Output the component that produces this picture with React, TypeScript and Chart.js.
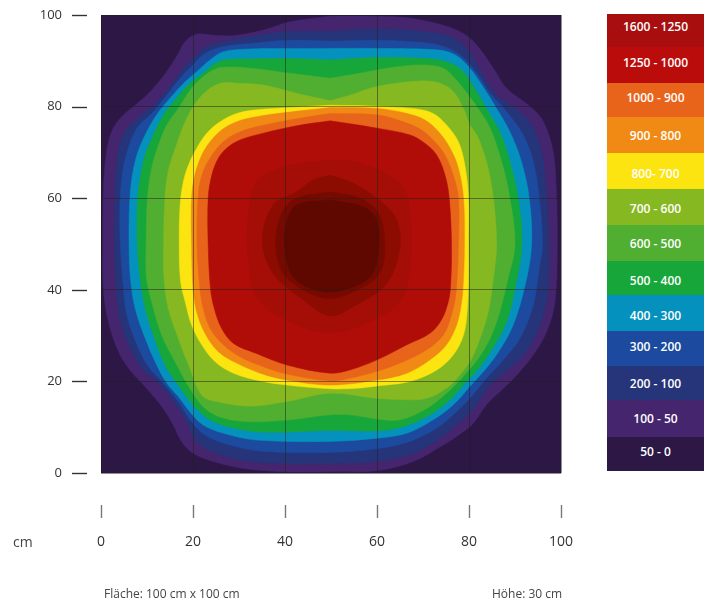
import React, { useEffect, useRef } from "react";
import { Chart, registerables } from "chart.js";

Chart.register(...registerables);

type Pt = [number, number];

const xTicks = [0, 20, 40, 60, 80, 100];
const legendLabels = ["1600 - 1250", "1250 - 1000", "1000 - 900", "900 - 800", "800- 700", "700 - 600", "600 - 500", "500 - 400", "400 - 300", "300 - 200", "200 - 100", "100 - 50", "50 - 0"];
const legendColors = ["#a80e0e", "#bb0c0c", "#e9641b", "#f08a14", "#fbe40f", "#86b821", "#50ae31", "#17a63a", "#0591bd", "#1b4a9e", "#263479", "#45256e", "#2c1745"];
const legendRowHeights = [33, 36, 34, 36, 36, 36, 36, 34, 36, 35, 34, 37, 34];
const legendTextNudge = [-4, -3, -3, 0, 2, 1, 0, 2, 2, -2, 0, 0, -3];

const band0: Pt[] = [[0, 100], [0, 0], [100, 0], [100, 100], [0, 100]];
const band50: Pt[] = [[49.8, 99.8], [41, 98.5], [35.3, 96.7], [28.8, 95.5], [24.4, 95.6], [20.8, 95.8], [18.3, 94.2], [16.4, 90.9], [13.2, 86.2], [9.2, 81.8], [4.5, 77.8], [2.3, 74.5], [1.1, 69.4], [0.5, 61.4], [0.4, 49.8], [0.5, 40.3], [1.6, 33], [3.8, 26.5], [6.3, 22.5], [9.9, 18.5], [13.5, 14.1], [15.7, 10.5], [17.5, 6.9], [20, 4.3], [24.4, 2.5], [30.9, 1], [39.6, 0.3], [49.8, 0.3], [60, 0.5], [67.9, 2.5], [74.4, 6.1], [78.8, 9], [81, 10.9], [83.8, 14.9], [87.5, 18.5], [90.4, 21.4], [94, 25.8], [96.9, 30.9], [98.7, 37.4], [99.2, 49.8], [99, 61.4], [98.3, 70.2], [96.2, 76.7], [93.3, 80], [88.2, 84], [85.3, 88.4], [81, 94.2], [77.3, 96.7], [71.5, 98.5], [64.3, 99.6], [49.8, 99.8]];
const band100: Pt[] = [[49.8, 96.4], [40.4, 96.4], [32.4, 95.3], [28, 94.5], [23, 93.1], [20.8, 91.3], [17.9, 88.4], [15, 84.4], [11.4, 80.3], [7, 76.7], [4.5, 73.1], [3.4, 68], [3, 60], [2.9, 49.8], [3.3, 40], [4.1, 33.8], [6.3, 27.2], [9.2, 22.5], [12.1, 20], [15.7, 15.6], [18.6, 11.2], [20.8, 6.9], [25.1, 4.3], [32.4, 2.5], [41, 2.1], [49.8, 2.1], [60, 2.5], [67.9, 4.3], [73.7, 7.6], [78, 11.2], [81, 14.1], [84.6, 19.2], [88.9, 22.9], [92.5, 26.5], [95.4, 32.3], [97.2, 39.6], [97.4, 49.8], [96.9, 60], [95.8, 70.2], [94, 75.3], [91.1, 78.9], [86, 82.5], [83.1, 86.9], [79.5, 92.7], [75.9, 95.3], [70.1, 96.4], [60, 96.9], [49.8, 96.4]];
const band200: Pt[] = [[49.8, 94.3], [41, 94.5], [32.4, 93.8], [26.6, 93.1], [22.6, 91.6], [20, 89.1], [17.5, 86.5], [14.3, 82.5], [11, 78.5], [7.8, 75.3], [5.9, 70.9], [4.7, 65.8], [4.1, 58.5], [4.2, 49.8], [4.9, 40], [5.6, 34.5], [7.8, 28], [10.3, 23.2], [13.2, 20], [16.8, 15.6], [19.7, 11.2], [22.6, 8.3], [28, 6.1], [35.3, 4.7], [49.8, 4.5], [60, 5.3], [67.2, 6.9], [73, 9.8], [77.3, 13.4], [80.2, 16.3], [83.8, 20.7], [87.5, 24.7], [91.1, 29.4], [94, 36.7], [95.4, 45.4], [96, 49.8], [95.3, 60], [94, 68], [91.8, 73.8], [88.2, 78.9], [84.6, 82.9], [81.7, 87.3], [78, 91.3], [73.7, 93.4], [67.2, 94.2], [60, 94.5], [49.8, 94.3]];
const band300: Pt[] = [[49.8, 92.7], [41, 92.7], [32.4, 92.6], [26.6, 92], [23.7, 90.2], [20.8, 87.6], [18.3, 85.4], [15, 81.8], [12.1, 78.2], [9.6, 73.8], [7.8, 69.4], [6.7, 64.3], [6.2, 58.5], [6.1, 49.8], [6.4, 42.5], [7.4, 36], [9.6, 29.4], [12.1, 23.6], [14.3, 19.6], [16.8, 16.7], [19.3, 13.4], [22.2, 10.5], [26.6, 8.7], [33.8, 7.2], [49.8, 6.9], [60, 7.6], [66.5, 8.7], [72.2, 11.6], [76.6, 14.9], [80.2, 18.9], [83.8, 22.9], [86.7, 26.9], [89.6, 32.3], [92.2, 41], [93.6, 49.8], [93.1, 60], [91.4, 68], [88.9, 74.5], [86, 79.6], [82.8, 84.7], [80.2, 88.4], [77, 91.3], [73, 92.4], [60, 92.7], [49.8, 92.7]];
const band400: Pt[] = [[49.8, 90.2], [41, 90.5], [32.4, 90.4], [26.6, 90.2], [24.4, 89.1], [22.2, 87.3], [19.3, 85.1], [16.4, 81.8], [13.6, 78.2], [11.4, 73.8], [9.6, 69.4], [8.5, 64.3], [7.9, 58.5], [7.9, 49.8], [8.5, 42.5], [9.6, 36], [11.4, 30.1], [13.9, 23.6], [16.8, 19.2], [20, 14.9], [23.7, 11.6], [28.8, 9.8], [35.3, 8.9], [49.8, 9.3], [60, 9.2], [65.7, 10.1], [71.5, 12.7], [75.9, 16], [79.1, 19.6], [82.4, 23.2], [85.6, 28], [88.2, 33], [90, 40.3], [91.5, 49.8], [90.7, 60], [88.9, 68], [86.7, 74.5], [83.8, 79.6], [81, 84.4], [78.4, 88], [75.1, 89.8], [70.8, 90.5], [60, 90.7], [49.8, 90.2]];
const band500: Pt[] = [[49.8, 86.2], [41, 87.3], [32.4, 88.4], [26.6, 88.6], [24.4, 88], [22.2, 86.5], [19.7, 84], [16.8, 79.6], [14.3, 76], [12.5, 71.6], [11, 66.5], [10.1, 60], [9.8, 49.8], [9.9, 42.5], [11, 37.4], [13.2, 30.1], [16.1, 24.3], [19.3, 18.5], [22.6, 14.1], [26.6, 12], [32.4, 11.2], [41, 11.6], [49.8, 12.7], [54.1, 12.7], [60, 11.8], [65, 11.6], [70.8, 14.1], [75.1, 17.4], [78.4, 20.7], [82, 25], [84.6, 29.4], [86.7, 35.2], [88.5, 42.5], [90, 49.8], [88.9, 60], [87.1, 68], [84.6, 75.3], [82, 79.6], [79.9, 82.5], [77.3, 85.8], [74.4, 88.4], [70.1, 89.1], [64.3, 88.7], [60, 88], [54.1, 86.9], [49.8, 86.2]];
const band600: Pt[] = [[49.8, 81.3], [42.5, 82.9], [35.3, 84.7], [29.5, 85.1], [26.6, 85.2], [23.7, 84], [20.8, 81.1], [18.3, 76.7], [16.4, 71.6], [14.6, 65.8], [13.9, 60], [13.6, 49.8], [13.7, 42.5], [14.6, 36], [16.8, 29.4], [19.3, 22.9], [21.9, 17], [25.1, 15.6], [32.4, 14.6], [40.4, 15.6], [49.8, 17.4], [60, 16.3], [65.7, 16], [70.8, 16.3], [75.1, 18.5], [77.7, 21], [80.6, 25], [82.4, 29.4], [84.2, 35.2], [85.3, 42.5], [86, 49.8], [85.3, 60], [83.8, 68], [81.7, 73.8], [80.2, 76], [78.8, 79.6], [76.6, 83.3], [73.7, 85.1], [69.3, 85.6], [60, 84.4], [54.1, 82.5], [49.8, 81.3]];
const band700: Pt[] = [[49.8, 80.3], [41, 79.8], [33.8, 79.3], [29.5, 78.5], [25.9, 76.7], [23, 74.2], [20.8, 70.9], [19, 67.2], [17.9, 63.6], [17.2, 58.5], [17, 49.8], [17.3, 41.8], [18.3, 37.4], [19.7, 32.3], [21.9, 28], [24.8, 24.3], [28.8, 21.8], [34.6, 20.1], [40.4, 19.2], [49.8, 18.4], [55.6, 18.5], [60, 19], [67.2, 20], [73, 22.5], [76.6, 25.8], [78.8, 30.1], [79.6, 35.2], [79.9, 42.5], [79.9, 49.8], [79.9, 60], [79.1, 67.2], [77.7, 72.3], [75.1, 76], [72.2, 78.5], [68.6, 79.5], [60, 80.1], [49.8, 80.3]];
const band800: Pt[] = [[49.8, 79.8], [41, 78.8], [33.8, 77.8], [29.5, 76.7], [26.2, 74.9], [23.7, 72.3], [21.9, 69.4], [20.4, 65.1], [19.7, 60], [19.7, 49.8], [20, 40.3], [20.8, 35.2], [22.6, 30.5], [25.5, 26.5], [29.5, 24], [34.6, 21.8], [40.4, 20.3], [49.8, 19.2], [60, 20.3], [66.5, 21.8], [71.5, 24.7], [75.1, 28], [77.3, 32.3], [78.4, 37.4], [78.8, 42.5], [79, 49.8], [78.8, 60], [77.7, 66.5], [75.9, 70.9], [73.4, 74.5], [70.4, 77.1], [66.5, 78.5], [60, 79.6], [49.8, 79.8]];
const band900: Pt[] = [[49.8, 78.5], [41, 77.1], [33.8, 75.6], [29.5, 74.2], [26.6, 72.3], [24.1, 69.4], [22.2, 65.8], [21.2, 61.4], [20.9, 49.8], [21.5, 40.3], [22.2, 36], [23.7, 31.6], [26.6, 28], [30.2, 25.4], [35.3, 23.2], [40.4, 21.6], [49.8, 20.1], [54.1, 20.7], [60, 22.2], [65.7, 24.3], [70.8, 26.9], [74.4, 30.1], [76.2, 34.5], [77.2, 39.6], [77.7, 49.8], [77.7, 60], [76.6, 65], [74.8, 69.4], [72.6, 72.3], [69.7, 74.9], [65.7, 76.7], [60, 78.2], [49.8, 78.5]];
const band1000: Pt[] = [[49.8, 76.9], [42.5, 75.8], [35.3, 74.2], [30.2, 72.7], [27.3, 70.9], [25.5, 68.7], [24.1, 65.1], [23.3, 60], [23.3, 49.8], [23.8, 40.3], [24.6, 36], [26.2, 31.6], [28.8, 28.3], [33.8, 26.1], [40.4, 23.6], [49.8, 21.8], [54.1, 22.5], [60, 24.7], [66.5, 28], [71.5, 30.5], [74, 33.4], [75.5, 37.4], [76, 41], [76.2, 49.8], [75.7, 60], [74.8, 65], [73, 69.4], [70.4, 72], [67.2, 73.8], [60, 75.3], [49.8, 76.9]];
const band1250: Pt[] = [[49.8, 68.3], [43.2, 67.7], [37.4, 66.1], [33.5, 63.2], [32, 56], [31.8, 48.7], [33.8, 38.5], [40.3, 33.4], [49.8, 30.6], [59.2, 33.4], [65.7, 38.5], [67.5, 48.7], [67.2, 56], [65.7, 62.5], [60.6, 66.1], [54.8, 68], [49.8, 68.3]];
const band1350: Pt[] = [[49.8, 65], [46.1, 64], [42.5, 61.4], [37.4, 58.5], [35.1, 50.8], [37.4, 43.6], [44, 37.8], [49.8, 34.3], [54.8, 36.3], [62.1, 41.4], [65, 49.4], [63.9, 56], [58.5, 61], [54.1, 63.6], [49.8, 65]];
const band1450: Pt[] = [[49.8, 61.4], [42.5, 60], [39.3, 56.7], [38, 50.1], [39.6, 43.6], [44.7, 39.6], [49.8, 38.1], [55.6, 39.9], [60.6, 43.6], [61.7, 50.1], [60.3, 56.7], [56.3, 60], [49.8, 61.4]];
const band1550: Pt[] = [[49.8, 59.6], [42.5, 58.5], [40.3, 54.5], [40, 48.7], [41.8, 42.8], [46.9, 39.9], [52, 39.8], [58.5, 42.8], [60.3, 48.7], [59.9, 55.2], [57, 58.1], [49.8, 59.6]];

// Outermost band first; each later band is painted over the one before it.
const bands: Pt[][] = [band0, band50, band100, band200, band300, band400, band500, band600, band700, band800, band900, band1000, band1250, band1350, band1450, band1550];
const bandColors = ["#2c1745", "#45256e", "#263479", "#1b4a9e", "#0591bd", "#17a63a", "#50ae31", "#86b821", "#fbe40f", "#f08a14", "#e9641b", "#b00d09", "#a50e06", "#8c0c02", "#760a00", "#5f0800"];

const closedFill = {
  id: "closedFill",
  beforeDatasetDraw(chart: any, args: any) {
    const line = chart.getDatasetMeta(args.index).dataset;
    const ctx = chart.ctx;
    line.updateControlPoints(chart.chartArea);
    ctx.save();
    ctx.beginPath();
    line.path(ctx);
    ctx.closePath();
    ctx.fillStyle = chart.data.datasets[args.index].backgroundColor;
    ctx.fill();
    ctx.restore();
  },
};

const tickMarks = {
  id: "tickMarks",
  afterDraw(chart: any) {
    const ctx = chart.ctx;
    const { x, y } = chart.scales;
    ctx.save();
    ctx.lineWidth = 1.4;
    ctx.strokeStyle = "#333";
    y.ticks.forEach((_: any, i: number) => {
      const p = Math.round(y.getPixelForTick(i)) + 0.5;
      ctx.beginPath();
      ctx.moveTo(72, p);
      ctx.lineTo(87, p);
      ctx.stroke();
    });
    ctx.strokeStyle = "#777";
    x.ticks.forEach((_: any, i: number) => {
      const p = Math.round(x.getPixelForTick(i)) + 0.5;
      ctx.beginPath();
      ctx.moveTo(p, 505);
      ctx.lineTo(p, 518);
      ctx.stroke();
    });
    ctx.restore();
  },
};

const textFont = '"Open Sans", sans-serif';

const clearPadding = (s: any) => {
  s.paddingTop = 0;
  s.paddingBottom = 0;
  s.paddingLeft = 0;
  s.paddingRight = 0;
};

export default function App() {
  const ref = useRef<HTMLCanvasElement>(null);
  useEffect(() => {
    const chart = new Chart(ref.current!, {
      type: "scatter",
      data: {
        datasets: bands.map((band, i) => ({
          data: band.map(([x, y]) => ({ x, y })),
          showLine: true,
          fill: false,
          order: bands.length - i,
          tension: i === 0 ? 0 : 0.35,
          backgroundColor: bandColors[i],
          borderColor: bandColors[i],
          borderWidth: 0.5,
          pointRadius: 0,
        })),
      },
      options: {
        animation: false,
        responsive: false,
        layout: { autoPadding: false, padding: { top: 15, right: 145, left: 0, bottom: 0 } },
        plugins: { legend: { display: false }, tooltip: { enabled: false } },
        scales: {
          x: {
            type: "linear",
            min: xTicks[0],
            max: xTicks[xTicks.length - 1],
            afterBuildTicks: (s: any) => { s.ticks = xTicks.map((value) => ({ value })); },
            afterFit: (s: any) => { s.height = 129; clearPadding(s); },
            grid: { color: "rgba(30,30,30,0.5)", z: 1, drawTicks: false, tickLength: 0 },
            border: { display: false },
            ticks: { padding: 61, color: "#333", font: { family: textFont, size: 14 }, maxRotation: 0 },
          },
          y: {
            type: "linear",
            min: xTicks[0],
            max: xTicks[xTicks.length - 1],
            afterBuildTicks: (s: any) => { s.ticks = xTicks.map((value) => ({ value })); },
            afterFit: (s: any) => { s.width = 101; clearPadding(s); },
            grid: { color: "rgba(30,30,30,0.5)", z: 1, drawTicks: false, tickLength: 0 },
            border: { display: false },
            ticks: { padding: 39, color: "#333", font: { family: textFont, size: 13 } },
          },
        },
      },
      plugins: [closedFill, tickMarks],
    } as any);
    return () => chart.destroy();
  }, []);

  const note = (text: string, left: number, top: number, size: number): React.ReactElement => (
    <div style={{ position: "absolute", left, top, fontFamily: textFont, fontSize: size, color: "#444", whiteSpace: "nowrap", lineHeight: "14px" }}>{text}</div>
  );

  return (
    <div style={{ position: "absolute", left: 0, top: 0, width: 706, height: 602, overflow: "hidden", background: "#fff", filter: "blur(0.45px)" }}>
      <canvas ref={ref} width={706} height={602} style={{ display: "block", width: 706, height: 602 }} />
      {note("cm", 13, 535, 14)}
      {note("Fläche: 100 cm x 100 cm", 104, 587, 12)}
      {note("Höhe: 30 cm", 492, 587, 12)}
      <div style={{ position: "absolute", left: 607, top: 14, width: 97, display: "flex", flexDirection: "column" }}>
        {legendLabels.map((label, i) => (
          <div key={label} style={{ height: legendRowHeights[i], display: "flex", alignItems: "center", justifyContent: "center", background: legendColors[i], color: "#fff", fontFamily: textFont, fontWeight: 600, fontSize: 12 }}>
            <span style={{ position: "relative", top: legendTextNudge[i] }}>{label}</span>
          </div>
        ))}
      </div>
    </div>
  );
}
